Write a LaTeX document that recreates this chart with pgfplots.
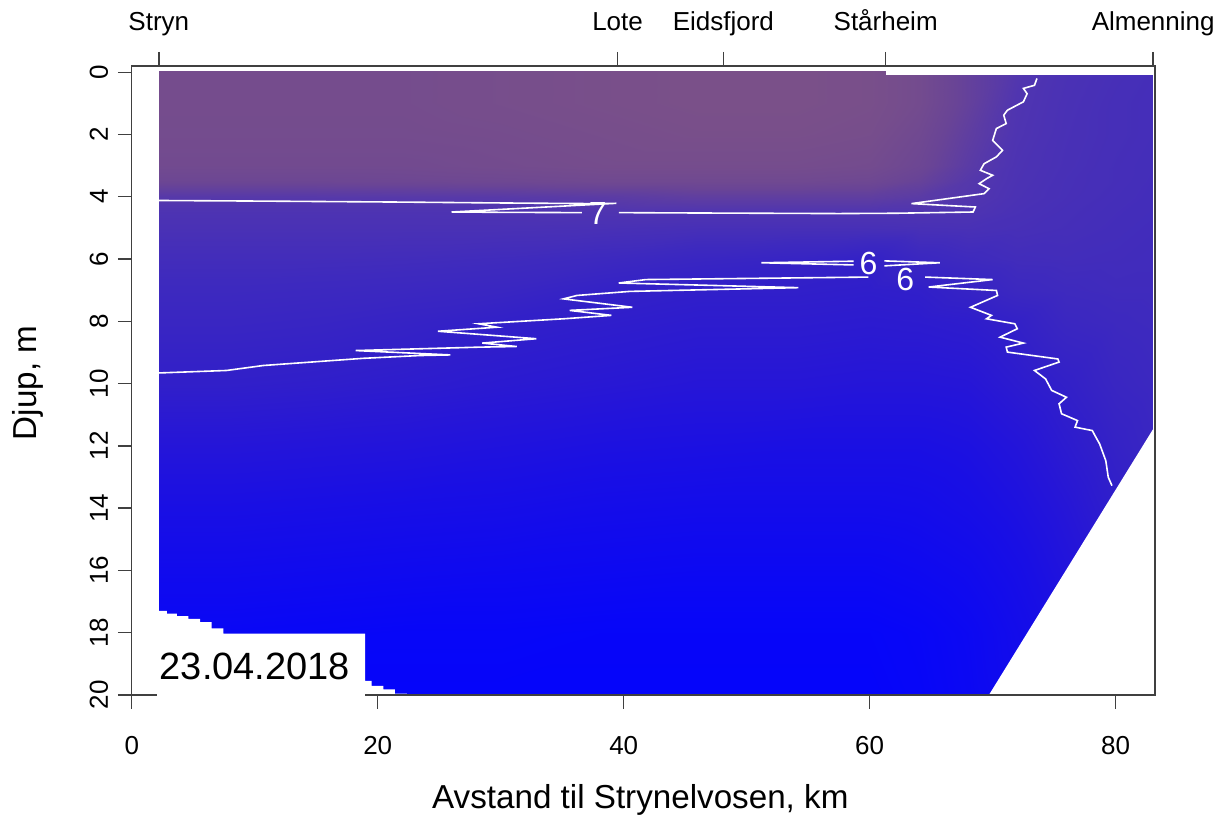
\documentclass[border=0pt]{standalone}
\usepackage{fontspec}
\setmainfont{Liberation Sans}
\usepackage{pgfplots}
\pgfplotsset{compat=1.18}
\pgfplotsset{colormap={tmap}{rgb255(0cm)=(5,5,250) rgb255(2cm)=(25,15,228) rgb255(3cm)=(38,22,215) rgb255(4cm)=(50,32,200) rgb255(5cm)=(62,42,190) rgb255(6cm)=(80,53,176) rgb255(7cm)=(105,68,150) rgb255(8cm)=(122,80,137)}}
\pgfplotstableread{
x d t
2.2 -0.05 7.85
8 -0.05 7.85
15 -0.05 7.85
22 -0.05 7.85
30 -0.05 7.9
38 -0.05 7.95
46 -0.05 8.0
54 -0.05 8.0
60 -0.05 7.95
64 -0.05 7.8
68 -0.05 7.4
72 -0.05 7.05
76 -0.05 6.85
80 -0.05 6.75
83 -0.05 6.7

2.2 1 7.85
8 1 7.85
15 1 7.85
22 1 7.85
30 1 7.9
38 1 7.95
46 1 8.0
54 1 8.0
60 1 7.95
64 1 7.8
68 1 7.4
72 1 6.98
76 1 6.82
80 1 6.72
83 1 6.68

2.2 2 7.82
8 2 7.82
15 2 7.82
22 2 7.82
30 2 7.85
38 2 7.9
46 2 7.95
54 2 7.95
60 2 7.9
64 2 7.7
68 2 7.3
72 2 6.95
76 2 6.8
80 2 6.72
83 2 6.68

2.2 3 7.75
8 3 7.75
15 3 7.75
22 3 7.75
30 3 7.8
38 3 7.85
46 3 7.85
54 3 7.85
60 3 7.8
64 3 7.6
68 3 7.2
72 3 6.9
76 3 6.78
80 3 6.7
83 3 6.66

2.2 3.5 7.6
8 3.5 7.6
15 3.5 7.6
22 3.5 7.62
30 3.5 7.65
38 3.5 7.7
46 3.5 7.7
54 3.5 7.7
60 3.5 7.65
64 3.5 7.45
68 3.5 7.1
72 3.5 6.88
76 3.5 6.76
80 3.5 6.7
83 3.5 6.65

2.2 4 7.12
8 4 7.12
15 4 7.12
22 4 7.13
30 4 7.15
38 4 7.2
46 4 7.3
54 4 7.3
60 4 7.3
64 4 7.2
68 4 7.05
72 4 6.85
76 4 6.75
80 4 6.68
83 4 6.64

2.2 4.5 6.92
8 4.5 6.92
15 4.5 6.92
22 4.5 6.92
30 4.5 6.93
38 4.5 6.96
46 4.5 6.98
54 4.5 6.98
60 4.5 6.98
64 4.5 6.98
68 4.5 6.95
72 4.5 6.8
76 4.5 6.72
80 4.5 6.66
83 4.5 6.62

2.2 5 6.82
8 5 6.82
15 5 6.82
22 5 6.82
30 5 6.82
38 5 6.8
46 5 6.75
54 5 6.75
60 5 6.75
64 5 6.78
68 5 6.8
72 5 6.75
76 5 6.7
80 5 6.64
83 5 6.6

2.2 6 6.62
8 6 6.62
15 6 6.62
22 6 6.6
30 6 6.55
38 6 6.45
46 6 6.3
54 6 6.2
60 6 6.05
64 6 6.35
68 6 6.5
72 6 6.6
76 6 6.62
80 6 6.6
83 6 6.58

2.2 7 6.45
8 7 6.45
15 7 6.42
22 7 6.38
30 7 6.3
38 7 6.1
46 7 5.95
54 7 5.95
60 7 5.9
64 7 5.95
68 7 6.15
72 7 6.4
76 7 6.5
80 7 6.55
83 7 6.55

2.2 8 6.3
8 8 6.3
15 8 6.25
22 8 6.15
30 8 6.0
38 8 5.9
46 8 5.8
54 8 5.8
60 8 5.75
64 8 5.78
68 8 5.85
72 8 6.05
76 8 6.35
80 8 6.45
83 8 6.5

2.2 10 5.95
8 10 5.95
15 10 5.9
22 10 5.82
30 10 5.7
38 10 5.6
46 10 5.5
54 10 5.5
60 10 5.45
64 10 5.45
68 10 5.5
72 10 5.75
76 10 6.0
80 10 6.3
83 10 6.4

2.2 12 5.45
8 12 5.45
15 12 5.4
22 12 5.35
30 12 5.25
38 12 5.15
46 12 5.1
54 12 5.05
60 12 5.05
64 12 5.05
68 12 5.15
72 12 5.4
76 12 5.75
80 12 6.1
83 12 6.3

2.2 14 5.0
8 14 5.0
15 14 4.95
22 14 4.9
30 14 4.85
38 14 4.75
46 14 4.7
54 14 4.7
60 14 4.7
64 14 4.75
68 14 4.9
72 14 5.15
76 14 5.5
80 14 5.9
83 14 6.2

2.2 16 4.6
8 16 4.6
15 16 4.55
22 16 4.5
30 16 4.45
38 16 4.4
46 16 4.35
54 16 4.35
60 16 4.35
64 16 4.45
68 16 4.6
72 16 4.9
76 16 5.3
80 16 5.7
83 16 6.0

2.2 18 4.2
8 18 4.2
15 18 4.15
22 18 4.1
30 18 4.1
38 18 4.05
46 18 4.05
54 18 4.05
60 18 4.05
64 18 4.15
68 18 4.35
72 18 4.7
76 18 5.1
80 18 5.5
83 18 5.8

2.2 20 4.0
8 20 4.0
15 20 4.0
22 20 4.0
30 20 4.0
38 20 4.0
46 20 4.0
54 20 4.0
60 20 4.0
64 20 4.1
68 20 4.3
72 20 4.6
76 20 5.0
80 20 5.4
83 20 5.7
}\tempdata
\begin{document}
\begin{tikzpicture}
\begin{axis}[name=main, scale only axis, width=511.7bp, height=314.5bp,
  xmin=0, xmax=83.2, ymin=-0.2, ymax=20, y dir=reverse,
  xtick={0,20,40,60,80}, ytick={0,2,...,20},
  xtick pos=bottom, ytick pos=left, tick align=outside,
  major tick length=7bp, axis on top,
  axis line style={black!75, line width=0.7bp},
  every tick/.style={black!75, line width=0.7bp},
  /pgf/number format/assume math mode=true,
  tick label style={font=\fontsize{13bp}{15bp}\selectfont},
  xticklabel style={anchor=base, yshift=-23bp},
  yticklabel style={rotate=90, anchor=base, yshift=5bp},
  xlabel={Avstand til Strynelvosen, km},
  ylabel={Djup, m},
  label style={font=\fontsize{16.6bp}{19bp}\selectfont},
  xlabel style={at={(axis description cs:0.497,-0.167)}, anchor=center},
  ylabel style={at={(axis description cs:-0.1016,0.496)}, anchor=center, rotate=0},
  colormap name=tmap, point meta min=4, point meta max=8,
]
\addplot[surf, shader=interp, mesh/cols=15, point meta=explicit] table[x=x, y=d, meta=t] {\tempdata};
% missing-data regions
\addplot[draw=none, fill=white] coordinates {(2.1,17.3) (2.85,17.3) (2.85,17.39) (3.66,17.39) (3.66,17.47) (4.6,17.47) (4.6,17.56) (5.55,17.56) (5.55,17.66) (6.5,17.66) (6.5,17.86) (7.45,17.86) (7.45,18.03) (18.97,18.03) (18.97,19.55) (19.5,19.55) (19.5,19.71) (20.46,19.71) (20.46,19.82) (21.4,19.82) (21.4,19.96) (22.36,19.96) (22.36,20.3) (2.1,20.3)} -- cycle;
\addplot[draw=none, fill=white] coordinates {(69.7,20.3) (69.7,20) (83.3,11.3) (83.3,20.3)} -- cycle;
\addplot[draw=none, fill=white] coordinates {(61.3,-0.3) (61.3,0.1) (83.3,0.1) (83.3,-0.3)} -- cycle;
% contour 7
\addplot[white, line width=0.8bp] coordinates {(2.17,4.12) (10.7,4.14) (21.5,4.17) (30.2,4.20) (37.3,4.22) (39.4,4.21) (26.0,4.49) (30.0,4.50) (36.6,4.51)};
\addplot[white, line width=0.8bp] coordinates {(39.6,4.51) (45,4.52) (57.5,4.54) (62.1,4.53) (68.4,4.49) (68.6,4.33) (63.4,4.22) (69.3,3.90) (69.7,3.74) (68.9,3.58) (69.5,3.42) (70.0,3.31) (69.0,3.15) (69.3,2.94) (70.3,2.72) (70.8,2.51) (70.0,2.19) (70.3,1.81) (71.1,1.65) (70.9,1.38) (71.2,1.22) (72.5,0.95) (72.8,0.69) (72.5,0.52) (73.4,0.42) (73.6,0.20)};
% contour 6
\addplot[white, line width=0.8bp] coordinates {(2.17,9.66) (7.7,9.58) (10.7,9.42) (18.8,9.19) (23.4,9.10) (25.9,9.08) (18.2,8.94) (28.3,8.83) (31.3,8.81) (28.5,8.70) (32.9,8.56) (24.9,8.32) (29.7,8.19) (28.2,8.08) (35.1,7.92) (39.0,7.81) (35.6,7.65) (40.7,7.55) (35.1,7.28) (36.2,7.17) (40.5,7.04) (54.2,6.92) (39.6,6.77) (41.8,6.66) (59.9,6.58)};
\addplot[white, line width=0.8bp] coordinates {(64.5,6.58) (70.0,6.66) (64.8,6.90) (70.3,7.01) (70.4,7.17) (68.2,7.55) (69.9,7.81) (69.5,7.92) (71.8,8.08) (72.0,8.24) (70.6,8.51) (72.5,8.70) (71.1,8.83) (71.2,8.99) (75.3,9.21) (75.4,9.31) (73.4,9.58) (74.3,9.85) (74.8,10.22) (76.0,10.44) (75.4,10.65) (75.6,10.97) (76.9,11.19) (76.7,11.40) (78.1,11.51) (78.4,11.73) (78.7,11.94) (79.2,12.48) (79.4,13.01) (79.7,13.28)};
\addplot[white, line width=0.8bp] coordinates {(58.7,6.07) (51.2,6.12) (58.7,6.19)};
\addplot[white, line width=0.8bp] coordinates {(61.2,6.06) (65.7,6.12) (61.2,6.22)};
\node[white, font=\fontsize{16bp}{18bp}\selectfont, inner sep=0pt] at (axis cs:37.9,4.55) {7};
\node[white, font=\fontsize{16bp}{18bp}\selectfont, inner sep=0pt] at (axis cs:59.9,6.14) {6};
\node[white, font=\fontsize{16bp}{18bp}\selectfont, inner sep=0pt] at (axis cs:62.9,6.66) {6};
\coordinate (lbA) at (axis cs:2.07,18.03);
\coordinate (lbB) at (axis cs:18.97,20);
\coordinate (dt) at (axis cs:2.25,19.5);
\end{axis}
\begin{axis}[scale only axis, width=511.7bp, height=314.5bp,
  xmin=0, xmax=83.2, ymin=-0.2, ymax=20, y dir=reverse,
  axis x line*=top, axis y line=none,
  xtick={2.2,39.5,48.1,61.3,83.05},
  xticklabels={Stryn,Lote,Eidsfjord,Stårheim,Almenning},
  tick align=outside, major tick length=7bp,
  axis line style={black!75, line width=0.7bp, -},
  every tick/.style={black!75, line width=0.7bp},
  tick label style={font=\fontsize{13bp}{15bp}\selectfont},
  xticklabel style={anchor=base, yshift=10.5bp},
]
\addplot[draw=none] coordinates {(10,10)};
\end{axis}
\fill[white] (lbA) rectangle ([yshift=-1bp]lbB);
\node[anchor=base west, inner sep=0pt, font=\fontsize{19bp}{21bp}\selectfont] at (dt) {23.04.2018};
\pgfresetboundingbox
\path ([xshift=-65.9bp,yshift=-64bp]main.south west) rectangle ([xshift=33.5bp,yshift=33bp]main.north east);
\end{tikzpicture}
\end{document}
